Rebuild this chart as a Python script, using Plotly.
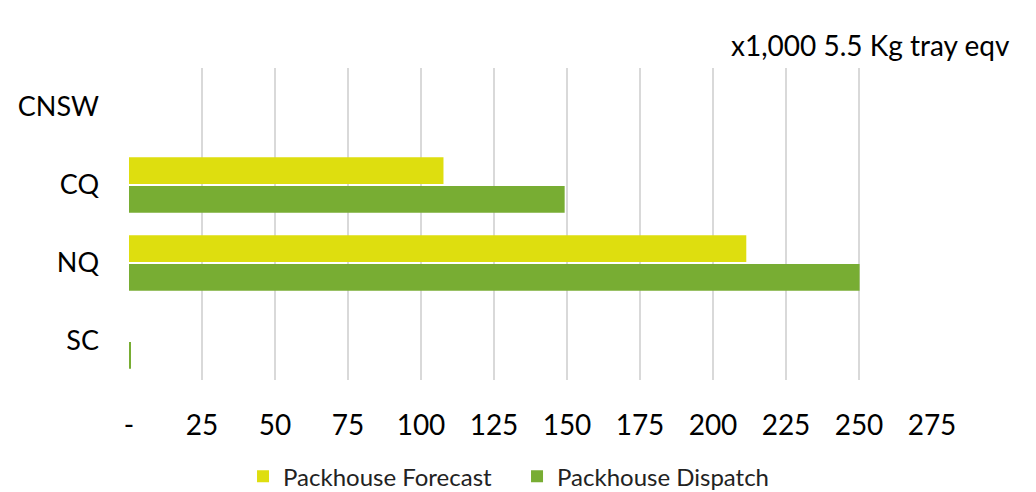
import plotly.graph_objects as go

categories = ["CNSW", "CQ", "NQ", "SC"]
forecast = [0, 107.7, 211.4, 0]
dispatch = [0, 149.2, 250.2, 0.5]
tick_vals = [0, 25, 50, 75, 100, 125, 150, 175, 200, 225, 250, 275]
tick_text = ["-", "25", "50", "75", "100", "125", "150", "175", "200", "225", "250", "275"]

FONT = "Lato, 'Open Sans', sans-serif"

fig = go.Figure()
fig.add_trace(go.Bar(y=categories, x=forecast, orientation="h", name="Packhouse Forecast",
                     marker=dict(color="#DEDE0F", line=dict(width=0))))
fig.add_trace(go.Bar(y=categories, x=dispatch, orientation="h", name="Packhouse Dispatch",
                     marker=dict(color="#78AD33", line=dict(width=0))))

fig.update_layout(
    width=1028, height=484,
    margin=dict(l=121, r=104, t=60, b=112, autoexpand=False),
    paper_bgcolor="white", plot_bgcolor="white",
    barmode="group", bargap=0.26, bargroupgap=0.07,
    font=dict(family=FONT, color="black"),
    legend=dict(orientation="h", x=0.142, xanchor="left", y=-0.31, yanchor="middle",
                entrywidth=229, entrywidthmode="pixels",
                font=dict(size=24, color="#222"), traceorder="normal"),
    xaxis=dict(range=[0, 275], tickvals=tick_vals, ticktext=tick_text,
               showgrid=True, gridcolor="#D9D9D9", gridwidth=2,
               zeroline=False, showline=False, ticks="", automargin=False,
               tickfont=dict(size=28), ticklabelstandoff=26),
    yaxis=dict(categoryorder="array", categoryarray=categories, autorange="reversed",
               showgrid=False, zeroline=False, showline=False, ticks="", automargin=False,
               tickfont=dict(size=27), ticklabelstandoff=29),
    annotations=[dict(text="x1,000 5.5 Kg tray eqv", xref="paper", yref="paper",
                      x=1.1, y=1.074, xanchor="right", yanchor="middle",
                      showarrow=False, font=dict(size=28, color="black"))],
)

fig.write_html("out.html")
